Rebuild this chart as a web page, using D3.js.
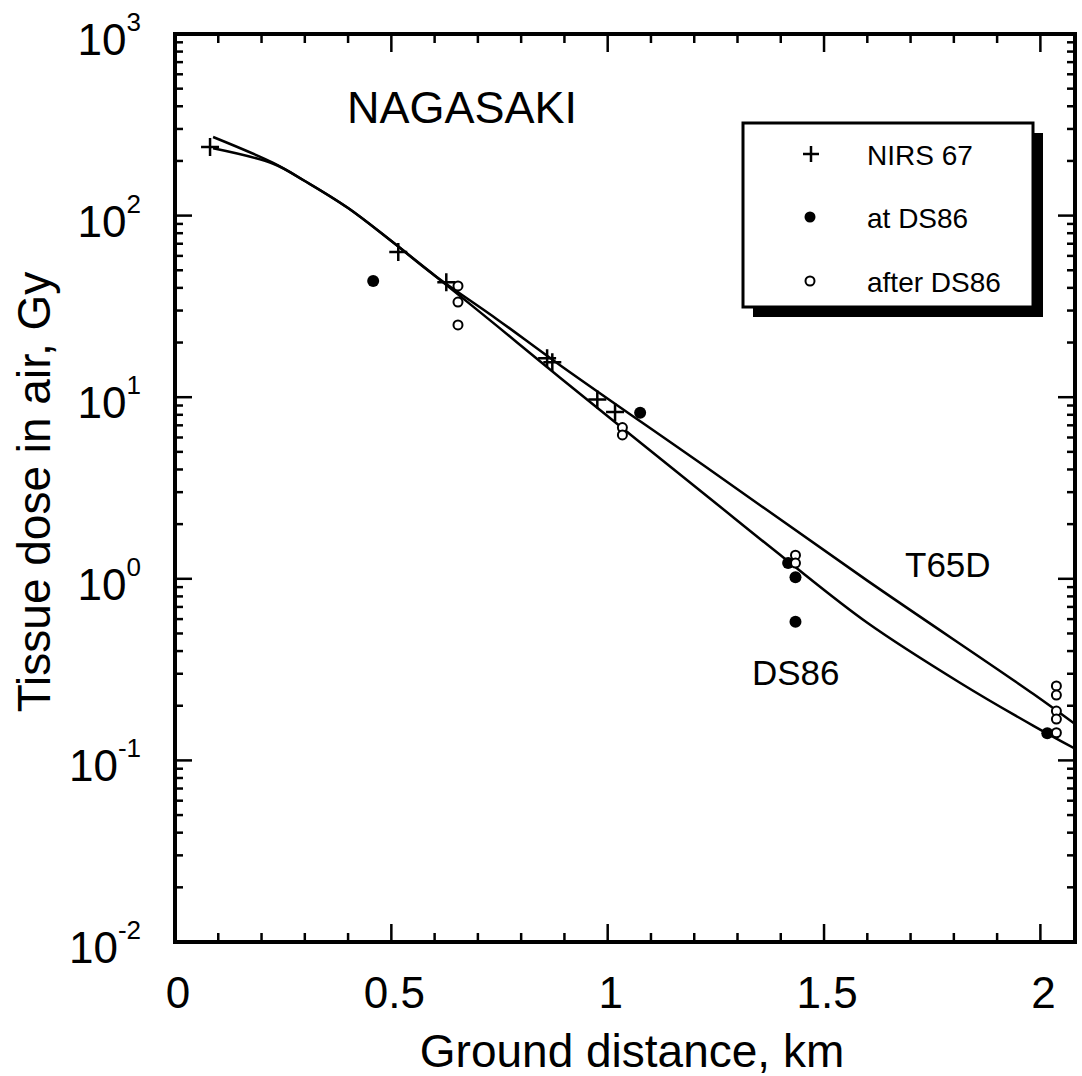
<!DOCTYPE html>
<html>
<head>
<meta charset="utf-8">
<script src="https://cdn.jsdelivr.net/npm/d3@7"></script>
<style>
  body { margin: 0; background: #fff; }
  svg { display: block; font-family: "Liberation Sans", Arial, Helvetica, sans-serif; }
</style>
</head>
<body>
<svg id="chart" width="1082" height="1076"></svg>
<script>
// values
var nirsDist = [0.081, 0.516, 0.627, 0.860, 0.872, 0.976, 1.017];
var nirsDose = [239, 63, 43, 16.4, 15.6, 9.7, 8.3];

var atDist = [0.458, 1.075, 1.417, 1.434, 1.434, 2.016];
var atDose = [43.6, 8.2, 1.22, 1.02, 0.58, 0.141];

var afterDist = [0.654, 0.654, 0.654, 1.034, 1.034, 1.434, 1.434, 2.037, 2.037, 2.037, 2.037, 2.037];
var afterDose = [41, 33.4, 25, 6.8, 6.2, 1.35, 1.22, 0.257, 0.229, 0.187, 0.169, 0.142];

var t65dDist = [0.088, 0.227, 0.3, 0.4, 0.5, 0.6, 0.744, 0.89, 1.237, 1.6, 1.984, 2.092];
var t65dDose = [235, 193, 155, 110, 72.4, 46.8, 26.9, 15.0, 3.97, 0.977, 0.232, 0.151];

var ds86Dist = [0.088, 0.227, 0.3, 0.4, 0.5, 0.6, 0.744, 0.89, 1.237, 1.406, 1.6, 1.815, 1.984, 2.092];
var ds86Dose = [271, 195, 155, 110, 72.4, 46.8, 24.7, 12.8, 2.76, 1.31, 0.573, 0.267, 0.155, 0.112];

var xMajor = [0, 0.5, 1, 1.5, 2];
var xLabels = ["0", "0.5", "1", "1.5", "2"];
var yExp = [-2, -1, 0, 1, 2, 3];
var legendNames = ["NIRS 67", "at DS86", "after DS86"];

var L = 175, R = 1075, T = 34, B = 942;
var svg = d3.select("#chart");
var x = d3.scaleLinear().domain([0, 2.08]).range([L, R]);
var y = d3.scaleLog().domain([0.01, 1000]).range([B, T]);

svg.append("clipPath").attr("id", "plotclip")
  .append("rect").attr("x", L).attr("y", T).attr("width", R - L).attr("height", B - T);

// ticks, mirrored on all four sides
var xMinor = d3.range(1, 21).map(function (i) { return i / 10; }).filter(function (v) { return Math.round(v * 10) % 5 != 0; });
var yMinor = [];
yExp.slice(0, 5).forEach(function (e) {
  for (var k = 2; k <= 9; k++) yMinor.push(k * Math.pow(10, e));
});
var ticks = svg.append("g").attr("stroke", "#000").attr("stroke-width", 2.5);
function xTicks(vals, len) {
  vals.forEach(function (v) {
    ticks.append("line").attr("x1", x(v)).attr("x2", x(v)).attr("y1", B).attr("y2", B - len);
    ticks.append("line").attr("x1", x(v)).attr("x2", x(v)).attr("y1", T).attr("y2", T + len);
  });
}
function yTicks(vals, len) {
  vals.forEach(function (v) {
    ticks.append("line").attr("y1", y(v)).attr("y2", y(v)).attr("x1", L).attr("x2", L + len);
    ticks.append("line").attr("y1", y(v)).attr("y2", y(v)).attr("x1", R).attr("x2", R - len);
  });
}
xTicks(xMajor.slice(1), 18);
xTicks(xMinor, 9);
yTicks(yExp.map(function (e) { return Math.pow(10, e); }), 17);
yTicks(yMinor, 8);

svg.append("rect").attr("x", L).attr("y", T).attr("width", R - L).attr("height", B - T)
  .attr("fill", "none").attr("stroke", "#000").attr("stroke-width", 4);

// tick labels
svg.selectAll(".xlab").data(xMajor).enter().append("text")
  .attr("class", "xlab")
  .attr("x", function (d) { return x(d) + 3; })
  .attr("y", 1008)
  .attr("text-anchor", "middle")
  .attr("font-size", 44)
  .text(function (d, i) { return xLabels[i]; });

var ylab = svg.selectAll(".ylab").data(yExp).enter().append("text")
  .attr("class", "ylab")
  .attr("x", 141)
  .attr("y", function (d) { return y(Math.pow(10, d)) + 21; })
  .attr("text-anchor", "end")
  .attr("font-size", 44);
ylab.append("tspan").text("10");
ylab.append("tspan").attr("dy", -24).attr("font-size", 26).text(function (d) { return d; });

// axis titles
svg.append("text").attr("x", 632).attr("y", 1067).attr("text-anchor", "middle")
  .attr("font-size", 46).text("Ground distance, km");
svg.append("text").attr("transform", "translate(50,492) rotate(-90)").attr("text-anchor", "middle")
  .attr("font-size", 46).text("Tissue dose in air, Gy");

// curves
var line = d3.line()
  .x(function (d) { return x(d[0]); })
  .y(function (d) { return y(d[1]); })
  .curve(d3.curveCatmullRom.alpha(0.5));
var plot = svg.append("g").attr("clip-path", "url(#plotclip)");
[d3.zip(t65dDist, t65dDose), d3.zip(ds86Dist, ds86Dose)].forEach(function (pts) {
  plot.append("path").attr("d", line(pts))
    .attr("fill", "none").attr("stroke", "#000").attr("stroke-width", 2.5);
});

// points
function plus(g, cx, cy, h) {
  g.append("path").attr("d", "M" + (cx - h) + "," + cy + "H" + (cx + h) + "M" + cx + "," + (cy - h) + "V" + (cy + h))
    .attr("stroke", "#000").attr("stroke-width", 2.5).attr("fill", "none");
}
d3.zip(nirsDist, nirsDose).forEach(function (d) { plus(plot, x(d[0]), y(d[1]), 9); });
plot.selectAll(".at").data(d3.zip(atDist, atDose)).enter().append("circle")
  .attr("class", "at")
  .attr("cx", function (d) { return x(d[0]); })
  .attr("cy", function (d) { return y(d[1]); })
  .attr("r", 6).attr("fill", "#000");
plot.selectAll(".after").data(d3.zip(afterDist, afterDose)).enter().append("circle")
  .attr("class", "after")
  .attr("cx", function (d) { return x(d[0]); })
  .attr("cy", function (d) { return y(d[1]); })
  .attr("r", 4.5).attr("fill", "#fff").attr("stroke", "#000").attr("stroke-width", 2);

// labels
svg.append("text").attr("x", 347).attr("y", 123).attr("font-size", 45).text("NAGASAKI");
svg.append("text").attr("x", 905).attr("y", 577).attr("font-size", 35).text("T65D");
svg.append("text").attr("x", 752).attr("y", 685).attr("font-size", 35).text("DS86");

// legend
var leg = svg.append("g");
leg.append("rect").attr("x", 753).attr("y", 133).attr("width", 290).attr("height", 184).attr("fill", "#000");
leg.append("rect").attr("x", 743).attr("y", 123).attr("width", 290).attr("height", 184)
  .attr("fill", "#fff").attr("stroke", "#000").attr("stroke-width", 3);
var rowY = [154, 217, 281];
plus(leg, 811, rowY[0], 8);
leg.append("circle").attr("cx", 810).attr("cy", rowY[1]).attr("r", 5.5).attr("fill", "#000");
leg.append("circle").attr("cx", 810).attr("cy", rowY[2]).attr("r", 4.5).attr("fill", "#fff").attr("stroke", "#000").attr("stroke-width", 2);
legendNames.forEach(function (n, i) {
  leg.append("text").attr("x", 867).attr("y", rowY[i] + 11).attr("font-size", 28).text(n);
});
</script>
</body>
</html>
